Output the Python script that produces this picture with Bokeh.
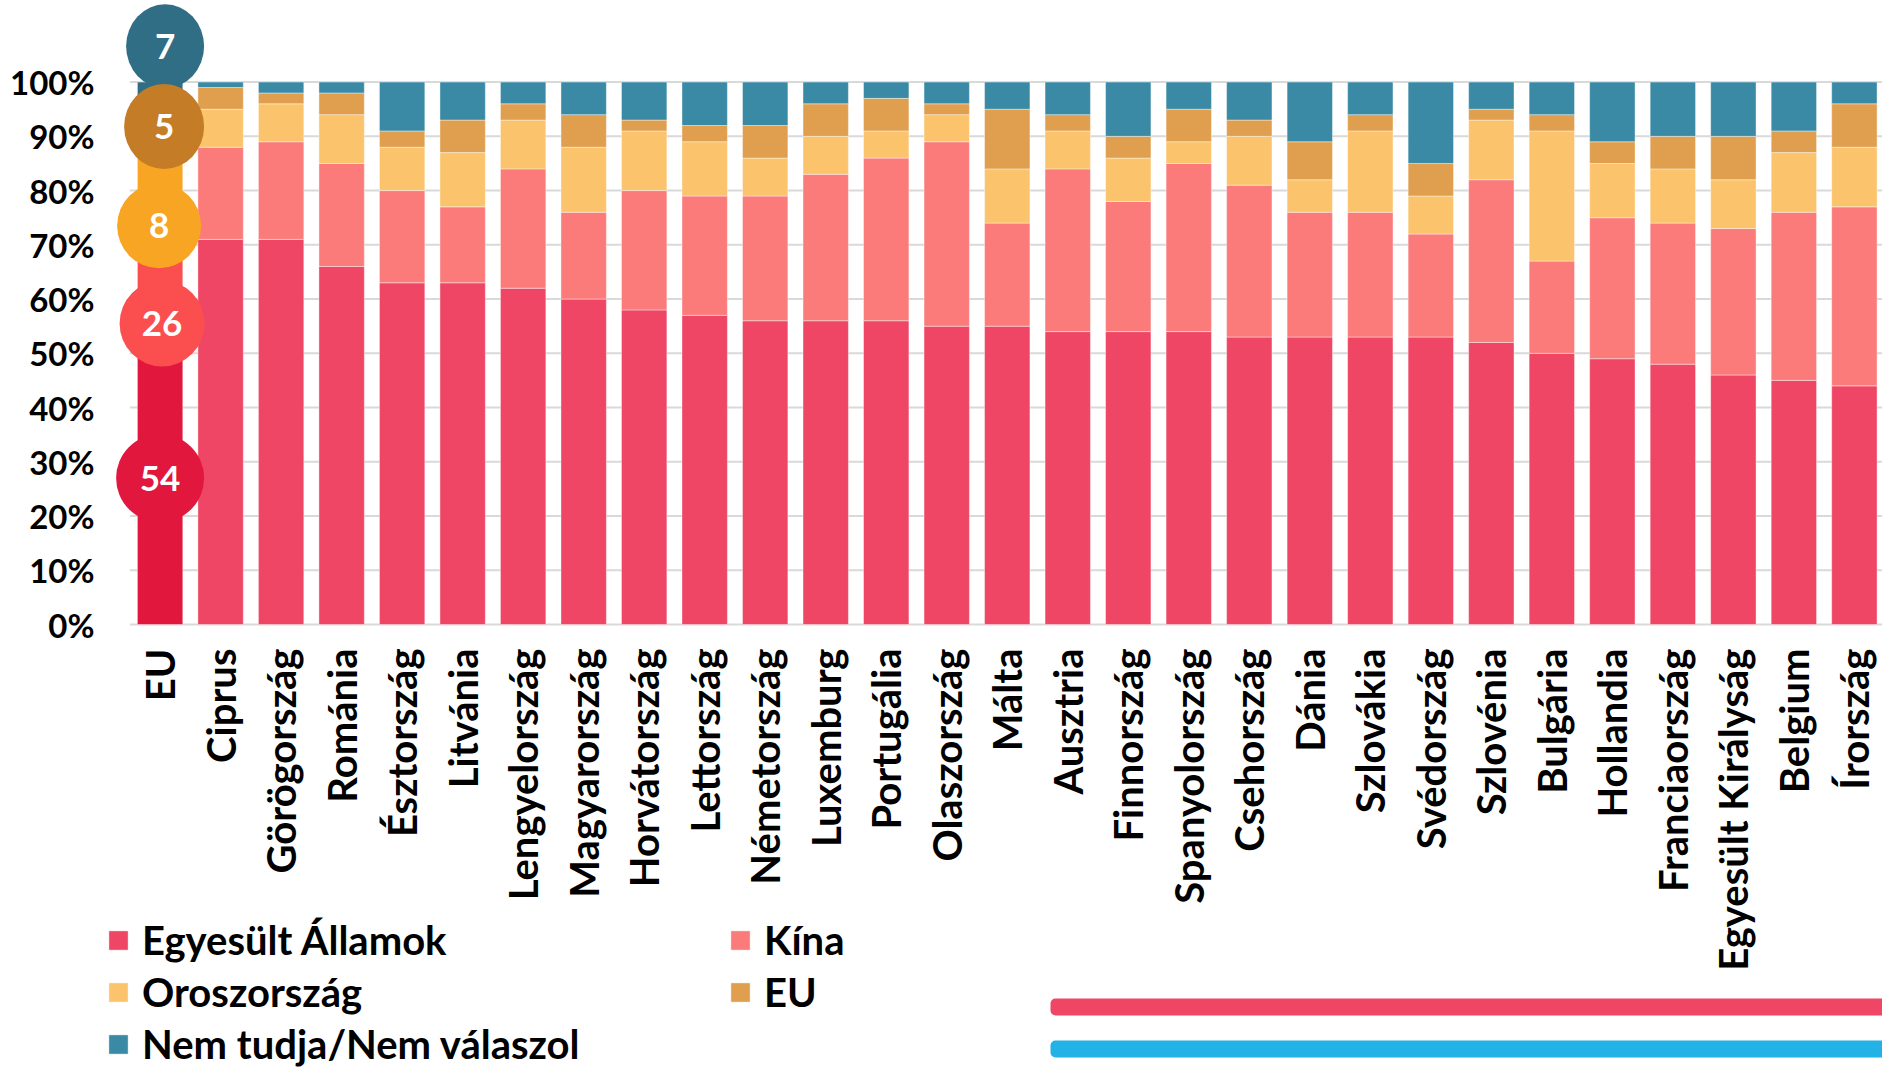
import math
import numpy as np
from bokeh.plotting import figure
from bokeh.models import (ColumnDataSource, Range1d, FixedTicker, PrintfTickFormatter,
                          Legend, LegendItem, BoxAnnotation)
from bokeh.core.properties import value
from bokeh.embed import file_html
from bokeh.resources import INLINE

# ---------------- data ----------------
countries = ["EU", "Ciprus", "Görögország", "Románia", "Észtország", "Litvánia",
             "Lengyelország", "Magyarország", "Horvátország", "Lettország", "Németország",
             "Luxemburg", "Portugália", "Olaszország", "Málta", "Ausztria", "Finnország",
             "Spanyolország", "Csehország", "Dánia", "Szlovákia", "Svédország", "Szlovénia",
             "Bulgária", "Hollandia", "Franciaország", "Egyesült Királyság", "Belgium", "Írország"]

us     = [54, 71, 71, 66, 63, 63, 62, 60, 58, 57, 56, 56, 56, 55, 55, 54, 54, 54, 53, 53, 53, 53, 52, 50, 49, 48, 46, 45, 44]
china  = [26, 17, 18, 19, 17, 14, 22, 16, 22, 22, 23, 27, 30, 34, 19, 30, 24, 31, 28, 23, 23, 19, 30, 17, 26, 26, 27, 31, 33]
russia = [8, 7, 7, 9, 8, 10, 9, 12, 11, 10, 7, 7, 5, 5, 10, 7, 8, 4, 9, 6, 15, 7, 11, 24, 10, 10, 9, 11, 11]
eu     = [5, 4, 2, 4, 3, 6, 3, 6, 2, 3, 6, 6, 6, 2, 11, 3, 4, 6, 3, 7, 3, 6, 2, 3, 4, 6, 8, 4, 8]
nt     = [7, 1, 2, 2, 9, 7, 4, 6, 7, 8, 8, 4, 3, 4, 5, 6, 10, 5, 7, 11, 6, 15, 5, 6, 11, 10, 10, 9, 4]

series_names = ["Egyesült Államok", "Kína", "Oroszország", "EU", "Nem tudja/Nem válaszol"]
tick_values = [0, 10, 20, 30, 40, 50, 60, 70, 80, 90, 100]

# ---------------- style ----------------
country_colors = ["#EE4664", "#FB7B7B", "#FBC46C", "#DF9F4E", "#3A8AA5"]
eu_colors = ["#E1173D", "#FA4E4F", "#F8A524", "#C47C27", "#306E86"]
badge_shift = [0, -11.5, -10.5, 1.3, 10.1]     # offset of badges from segment centres (%)
badge_dx_px = [0, 2, -1, 4, 5]
badge_w = [88, 85, 84, 80, 78]
badge_h = [88, 86, 85, 85, 84]
FONT = "Lato"

W, H = 1882, 1071
FRAME_L = 103          # left edge of plotting frame (px)
ZERO_Y = 624           # pixel row of 0 %
PX_PER_CAT = 60.51
PX_PER_PCT = 5.424
x_start = -(159.6 - FRAME_L) / PX_PER_CAT
x_end = x_start + (W - FRAME_L) / PX_PER_CAT
y_end = ZERO_Y / PX_PER_PCT
y_start = -(H - ZERO_Y) / PX_PER_PCT


def px_to_x(px):
    return x_start + (px - FRAME_L) / PX_PER_CAT


def px_to_y(py):
    return (ZERO_Y - py) / PX_PER_PCT


p = figure(width=W, height=H, x_range=Range1d(x_start, x_end), y_range=Range1d(y_start, y_end),
           output_backend="svg", toolbar_location=None,
           min_border_left=FRAME_L, min_border_right=0, min_border_top=0, min_border_bottom=0)
p.outline_line_color = None
p.grid.visible = False
p.background_fill_color = "white"
p.border_fill_color = "white"

# grid lines
p.segment(x0=-0.5, y0=tick_values, x1=len(countries) + 2, y1=tick_values,
          line_color="#D9D9D9", line_width=2)

# stacked bars
xs = list(range(len(countries)))
bottom = np.zeros(len(countries))
renderers = []
for vals, cc, ec in zip([us, china, russia, eu, nt], country_colors, eu_colors):
    v = np.array(vals, dtype=float)
    colors = [ec] + [cc] * (len(countries) - 1)
    src = ColumnDataSource(dict(x=xs, bottom=bottom.copy(), top=bottom + v, color=colors))
    r = p.vbar(x="x", bottom="bottom", top="top", width=0.75, source=src,
               fill_color="color", line_color="white", line_width=0.8, line_alpha=0.5)
    renderers.append(r)
    bottom = bottom + v

# EU badges
eu_vals = [s[0] for s in (us, china, russia, eu, nt)]
cum = np.cumsum([0] + eu_vals)
centres = (cum[:-1] + cum[1:]) / 2.0
badge_y = list(centres + np.array(badge_shift))
badge_x = [d / PX_PER_CAT for d in badge_dx_px]
order = [4, 3, 2, 1, 0]
p.ellipse(x=[badge_x[i] for i in order], y=[badge_y[i] for i in order],
          width=[badge_w[i] for i in order], height=[badge_h[i] for i in order],
          width_units="screen", height_units="screen",
          fill_color=[eu_colors[i] for i in order], line_color=None)
p.text(x=badge_x, y=badge_y, text=[str(v) for v in eu_vals], text_align="center",
       text_baseline="middle", text_color="white", text_font=value(FONT),
       text_font_style="bold", text_font_size="35px")

# axes
p.xaxis.fixed_location = 0
p.xaxis.ticker = FixedTicker(ticks=xs)
p.xaxis.major_label_overrides = {i: c for i, c in enumerate(countries)}
p.xaxis.major_label_orientation = math.pi / 2
p.yaxis.ticker = FixedTicker(ticks=tick_values)
p.yaxis.formatter = PrintfTickFormatter(format="%d%%")
for ax in (p.xaxis[0], p.yaxis[0]):
    ax.axis_line_color = None
    ax.major_tick_line_color = None
    ax.minor_tick_line_color = None
    ax.major_tick_out = 0
    ax.major_tick_in = 0
    ax.major_label_text_font = FONT
    ax.major_label_text_font_style = "bold"
    ax.major_label_text_color = "black"
p.xaxis.major_label_text_font_size = "40px"
p.yaxis.major_label_text_font_size = "33px"
p.xaxis.major_label_standoff = 24
p.yaxis.major_label_standoff = 9

# legends
leg_kw = dict(glyph_width=24, glyph_height=24, label_standoff=12, spacing=4, padding=0,
              margin=0, border_line_color=None, background_fill_alpha=0,
              label_text_font=FONT, label_text_font_style="bold",
              label_text_font_size="40px", label_text_color="black")
items1 = [LegendItem(label=series_names[i], renderers=[renderers[i]], index=1) for i in (0, 2, 4)]
items2 = [LegendItem(label=series_names[i], renderers=[renderers[i]], index=1) for i in (1, 3)]
p.add_layout(Legend(items=items1, location=(3, 3), **leg_kw))
p.add_layout(Legend(items=items2, location=(625, 55), **leg_kw))

# decorative stripes
p.add_layout(BoxAnnotation(left=px_to_x(1050), right=x_end + 5, top=px_to_y(998),
                           bottom=px_to_y(1015), fill_color="#EE4664", fill_alpha=1,
                           line_color=None, border_radius=5))
p.add_layout(BoxAnnotation(left=px_to_x(1050), right=x_end + 5, top=px_to_y(1040),
                           bottom=px_to_y(1057), fill_color="#22B2E6", fill_alpha=1,
                           line_color=None, border_radius=5))

open("out.html", "w").write(file_html(p, INLINE))
